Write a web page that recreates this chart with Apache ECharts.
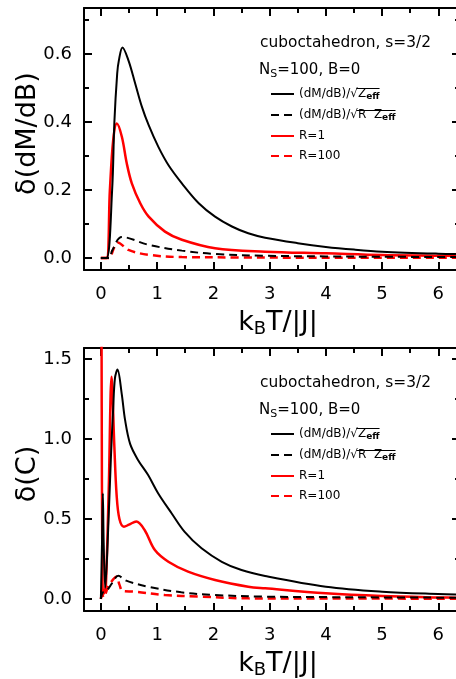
<!DOCTYPE html>
<html>
<head>
<meta charset="utf-8">
<script src="https://cdn.jsdelivr.net/npm/echarts@6/dist/echarts.min.js"></script>
<style>
html,body{margin:0;padding:0;background:#fff;}
#chart{width:456px;height:679px;}
</style>
</head>
<body>
<div id="chart"></div>
<script>
// ---------- data ----------
const X_MAJOR = [0, 1, 2, 3, 4, 5, 6];
const X_MINOR = [0.5, 1.5, 2.5, 3.5, 4.5, 5.5];
const Y1_MAJOR = [0, 0.2, 0.4, 0.6];
const Y1_MINOR = [0.1, 0.3, 0.5, 0.7];
const Y2_MAJOR = [0, 0.5, 1.0, 1.5];
const Y2_MINOR = [0.25, 0.75, 1.25];

const SERIES_NAMES = ['(dM/dB)/√Zeff', '(dM/dB)/√R Zeff', 'R=1', 'R=100'];

// top panel: delta(dM/dB)
const dmdbBlackSolid = [[0,0],[0.10,0],[0.20,0.20],[0.24,0.40],[0.29,0.543],[0.32,0.582],[0.384,0.62],[0.49,0.582],[0.61,0.514],[0.73,0.445],[0.85,0.391],[1.02,0.328],[1.20,0.274],[1.44,0.22],[1.74,0.1615],[2.03,0.122],[2.33,0.093],[2.62,0.073],[2.92,0.060],[3.5,0.044],[4,0.033],[4.5,0.025],[5,0.019],[6,0.013],[6.4,0.012]];
const dmdbBlackDash = [[0,0],[0.15,0],[0.20,0.022],[0.373,0.062],[0.85,0.039],[1.44,0.022],[2.03,0.012],[2.92,0.007],[4,0.005],[5,0.004],[6.4,0.003]];
const dmdbRedSolid = [[0,0],[0.10,0],[0.16,0.20],[0.22,0.349],[0.284,0.396],[0.373,0.357],[0.46,0.279],[0.55,0.22],[0.70,0.1615],[0.85,0.122],[1.14,0.078],[1.44,0.054],[2.03,0.029],[2.92,0.019],[4,0.014],[5,0.009],[6,0.007],[6.4,0.006]];
const dmdbRedDash = [[0,0],[0.15,0],[0.22,0.025],[0.30,0.046],[0.49,0.024],[0.85,0.0097],[1.44,0.003],[2.5,0.002],[4,0.001],[6.4,0.001]];

// bottom panel: delta(C)
const cBlackSolid = [[0,0],[0.02,0.35],[0.035,0.66],[0.05,0.35],[0.077,0.07],[0.12,0.35],[0.18,0.9],[0.22,1.2],[0.25,1.38],[0.295,1.435],[0.37,1.285],[0.43,1.12],[0.52,0.97],[0.66,0.87],[0.84,0.775],[1.02,0.66],[1.26,0.535],[1.49,0.42],[1.79,0.317],[2.15,0.233],[2.50,0.181],[2.92,0.144],[4,0.077],[5,0.046],[6,0.031],[6.4,0.028]];
const cBlackDash = [[0,0],[0.03,0.04],[0.1,0.05],[0.2,0.1],[0.31,0.145],[0.45,0.115],[0.84,0.077],[1.43,0.042],[2.03,0.025],[2.92,0.015],[4,0.012],[5,0.01],[6.4,0.008]];
const cRedSolid = [[0.005,3.0],[0.015,1.2],[0.025,0.3],[0.04,0.03],[0.07,0.05],[0.09,0.09],[0.14,0.69],[0.19,1.39],[0.24,0.95],[0.28,0.65],[0.33,0.50],[0.41,0.452],[0.50,0.465],[0.63,0.485],[0.78,0.43],[0.96,0.306],[1.20,0.233],[1.55,0.171],[2.03,0.119],[2.62,0.077],[2.92,0.067],[4,0.036],[5,0.019],[6,0.01],[6.4,0.008]];
const cRedDash = [[0,0],[0.02,0.03],[0.05,0.01],[0.13,0.077],[0.28,0.14],[0.33,0.09],[0.39,0.05],[0.60,0.046],[1.14,0.025],[1.73,0.016],[2.62,0.004],[4,0.003],[6.4,0.002]];

// ---------- layout / style ----------
const FONT = '"DejaVu Sans", sans-serif';
const X_MIN = -0.3, X_MAX = 6.385;
const GRIDS = [
  {left: 84, top: 8, width: 376, height: 262, yMin: -0.035, yMax: 0.736},
  {left: 84, top: 348, width: 376, height: 263, yMin: -0.075, yMax: 1.57}
];

const chart = echarts.init(document.getElementById('chart'), null, {renderer: 'canvas'});

function axisSet(type, gi, min, max, major, minor, labelFmt, name, nameStyle, nameGap) {
  const posA = type === 'x' ? 'bottom' : 'left';
  const posB = type === 'x' ? 'top' : 'right';
  const base = {type: 'value', gridIndex: gi, min: min, max: max, splitLine: {show: false}, scale: true};
  const mk = (pos, vals, len, line, label) => Object.assign({}, base, {
    position: pos,
    axisLine: {show: line, onZero: false, lineStyle: {color: '#000', width: 2}},
    axisTick: {show: true, inside: true, length: len, customValues: vals, lineStyle: {color: '#000', width: 2}},
    axisLabel: label ? {show: true, customValues: major, formatter: labelFmt, color: '#000', fontSize: 18, fontFamily: FONT, margin: type === 'x' ? 15 : 12} : {show: false}
  });
  const main = mk(posA, major, 8, true, true);
  if (name) {
    main.name = name;
    main.nameLocation = 'middle';
    main.nameGap = nameGap;
    main.nameMoveOverlap = false;
    main.nameTextStyle = nameStyle;
    if (type === 'y') main.nameRotate = 90;
  }
  return [main, mk(posA, minor, 5, false, false), mk(posB, major, 8, true, false), mk(posB, minor, 5, false, false)];
}

const xTitle = '{a|k}{s|B}{a|T/|J|}';
const xTitleStyle = {padding: [0, 0, 0, 12], rich: {
  a: {fontSize: 27, lineHeight: 30, fontFamily: FONT, color: '#000'},
  s: {fontSize: 18, lineHeight: 18, fontFamily: FONT, color: '#000', verticalAlign: 'bottom'}
}};
const yTitleStyle = {fontSize: 27, lineHeight: 30, fontFamily: FONT, color: '#000', padding: [0, 0, 0, 11]};

const xAxes = [].concat(
  axisSet('x', 0, X_MIN, X_MAX, X_MAJOR, X_MINOR, v => String(v), xTitle, xTitleStyle, 38),
  axisSet('x', 1, X_MIN, X_MAX, X_MAJOR, X_MINOR, v => String(v), xTitle, xTitleStyle, 38)
);
const yAxes = [].concat(
  axisSet('y', 0, GRIDS[0].yMin, GRIDS[0].yMax, Y1_MAJOR, Y1_MINOR, v => v.toFixed(1), 'δ(dM/dB)', yTitleStyle, 41),
  axisSet('y', 1, GRIDS[1].yMin, GRIDS[1].yMax, Y2_MAJOR, Y2_MINOR, v => v.toFixed(1), 'δ(C)', yTitleStyle, 41)
);

const STYLES = [
  {color: '#000000', type: 'solid', width: 2},
  {color: '#000000', type: [8, 5], width: 2},
  {color: '#ff0000', type: 'solid', width: 2.5},
  {color: '#ff0000', type: [8, 5], width: 2.5}
];
const PANEL_DATA = [
  [dmdbBlackSolid, dmdbBlackDash, dmdbRedSolid, dmdbRedDash],
  [cBlackSolid, cBlackDash, cRedSolid, cRedDash]
];
const series = [];
PANEL_DATA.forEach((arr, gi) => {
  arr.forEach((d, k) => {
    series.push({
      type: 'line', name: SERIES_NAMES[k], xAxisIndex: gi * 4, yAxisIndex: gi * 4,
      data: d, showSymbol: false, symbol: 'none', smooth: 0.35, clip: true,
      lineStyle: {color: STYLES[k].color, type: STYLES[k].type, width: STYLES[k].width},
      itemStyle: {color: STYLES[k].color}, z: 10 - k
    });
  });
});

// legend text
const LEG_FMT = {
  '(dM/dB)/√Zeff': '{t|(dM/dB)/√Z}{s|eff}',
  '(dM/dB)/√R Zeff': '{t|(dM/dB)/√R  Z}{s|eff}',
  'R=1': '{t|R=1}',
  'R=100': '{t|R=100}'
};
const LEG_RICH = {
  t: {fontSize: 12, lineHeight: 14, fontFamily: FONT, color: '#000'},
  s: {fontSize: 9, lineHeight: 8, fontFamily: FONT, color: '#000', verticalAlign: 'bottom', fontWeight: 'bold'}
};
const LEG_LEFT = 270, LEG_TOPS = [88, 428], ROW = 22;
const legends = LEG_TOPS.map(t => ({
  left: LEG_LEFT, top: t, orient: 'vertical', padding: 0, itemWidth: 23, itemHeight: 14, itemGap: 8,
  data: SERIES_NAMES, formatter: n => LEG_FMT[n], textStyle: {rich: LEG_RICH},
  itemStyle: {opacity: 0}, selectedMode: false
}));

// overlines of the square roots in the legend
const cv = document.createElement('canvas').getContext('2d');
function tw(txt, size, bold) { cv.font = (bold ? 'bold ' : '') + size + 'px ' + FONT; return cv.measureText(txt).width; }
const graphics = [];
const textX = LEG_LEFT + 23 + 5;
LEG_TOPS.forEach(t => {
  [['(dM/dB)/√', 'Z'], ['(dM/dB)/√', 'R  Z']].forEach((p, i) => {
    const x1 = textX + tw(p[0], 12) - 0.5;
    const x2 = x1 + tw(p[1], 12) + tw('eff', 9, true) + 1.5;
    const y = t + i * ROW + 0.5;
    graphics.push({type: 'line', shape: {x1: x1, y1: y, x2: x2, y2: y}, style: {stroke: '#000', lineWidth: 1}, z: 100});
  });
});
// annotations
const ANN_Y = [[43, 70], [383, 410]];
ANN_Y.forEach(ys => {
  graphics.push({type: 'text', x: 260, y: ys[0], style: {text: 'cuboctahedron, s=3/2', font: '15.4px ' + FONT, fill: '#000', verticalAlign: 'middle'}, z: 100});
  graphics.push({type: 'text', x: 259, y: ys[1], style: {text: '{a|N}{s|S}{a|=100, B=0}', verticalAlign: 'middle',
    rich: {a: {fontSize: 15, lineHeight: 20, fontFamily: FONT, fill: '#000'}, s: {fontSize: 11, lineHeight: 10, fontFamily: FONT, fill: '#000', verticalAlign: 'bottom'}}}, z: 100});
});

chart.setOption({
  animation: false,
  backgroundColor: '#fff',
  grid: GRIDS.map(g => ({left: g.left, top: g.top, width: g.width, height: g.height, containLabel: false, outerBoundsMode: 'none'})),
  xAxis: xAxes,
  yAxis: yAxes,
  legend: legends,
  series: series,
  graphic: graphics
});
</script>
</body>
</html>
